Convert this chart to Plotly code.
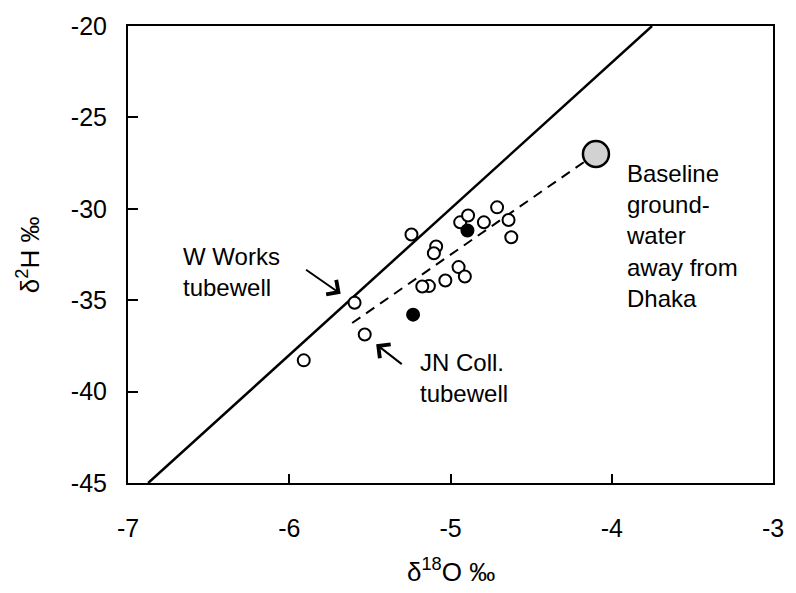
import plotly.graph_objects as go

# Data
open_x = [-5.242, -5.595, -5.532, -5.910, -4.940, -4.891, -4.793, -4.711, -4.640, -4.623,
          -5.089, -5.103, -4.950, -4.911, -5.032, -5.134, -5.175]
open_y = [-31.41, -35.14, -36.88, -38.29, -30.74, -30.37, -30.74, -29.92, -30.61, -31.56,
          -32.06, -32.43, -33.19, -33.70, -33.92, -34.23, -34.25]
filled_x = [-5.232, -4.895]
filled_y = [-35.79, -31.19]
baseline_x = [-4.098]
baseline_y = [-27.00]
mix_x = [-5.61, -4.10]
mix_y = [-36.25, -27.00]
gmwl_x = [-6.875, -3.75]
gmwl_slope, gmwl_int = 8, 10
gmwl_y = [gmwl_slope * v + gmwl_int for v in gmwl_x]
x_ticks = [-7, -6, -5, -4, -3]
x_ticktext = ["-7", "-6", "-5", "-4", "-3"]
y_ticks = [-20, -25, -30, -35, -40, -45]
y_ticktext = ["-20", "-25", "-30", "-35", "-40", "-45"]

FONT = "Liberation Sans, Arial, sans-serif"

fig = go.Figure()
fig.add_trace(go.Scatter(x=gmwl_x, y=gmwl_y, mode="lines",
                         line=dict(color="black", width=2.5), hoverinfo="skip"))
fig.add_trace(go.Scatter(x=mix_x, y=mix_y, mode="lines",
                         line=dict(color="black", width=2, dash="10px,7px"), hoverinfo="skip"))
fig.add_trace(go.Scatter(x=open_x, y=open_y, mode="markers",
                         marker=dict(size=12, color="white", line=dict(color="black", width=2))))
fig.add_trace(go.Scatter(x=filled_x, y=filled_y, mode="markers",
                         marker=dict(size=12, color="black", line=dict(color="black", width=2))))
fig.add_trace(go.Scatter(x=baseline_x, y=baseline_y, mode="markers",
                         marker=dict(size=26, color="#d2d2d2", line=dict(color="black", width=2.5))))

annots = []
# arrows
for (tx, ty, hx, hy) in [(-5.905, -33.28, -5.681, -34.65), (-5.293, -38.56, -5.461, -37.41)]:
    annots.append(dict(x=hx, y=hy, ax=tx, ay=ty, xref="x", yref="y", axref="x", ayref="y",
                       text="", showarrow=True, arrowhead=4, arrowsize=1.7, arrowwidth=2,
                       arrowcolor="black"))
# labels
labels = [(-6.671, -33.47, "W Works<br>tubewell"),
          (-5.201, -39.24, "JN Coll.<br>tubewell"),
          (-3.925, -31.50, "Baseline<br>ground-<br>water<br>away from<br>Dhaka")]
for (lx, ly, t) in labels:
    annots.append(dict(x=lx, y=ly, xref="x", yref="y", text=t, showarrow=False,
                       xanchor="left", yanchor="middle", align="left",
                       font=dict(family=FONT, size=24, color="black")))
# axis titles
annots.append(dict(x=0.5, y=-0.192, xref="paper", yref="paper", text="δ<sup>18</sup>O ‰",
                   showarrow=False, xanchor="center", yanchor="middle",
                   font=dict(family=FONT, size=26, color="black")))
annots.append(dict(x=-0.154, y=0.5, xref="paper", yref="paper", text="δ<sup>2</sup>H ‰",
                   showarrow=False, xanchor="center", yanchor="middle", textangle=-90,
                   font=dict(family=FONT, size=26, color="black")))

fig.update_layout(
    width=796, height=593,
    margin=dict(l=128, r=15, t=25, b=110),
    paper_bgcolor="white", plot_bgcolor="white",
    showlegend=False,
    annotations=annots,
    font=dict(family=FONT, size=25, color="black"),
)
fig.update_xaxes(range=[-7, -3], tickvals=x_ticks, ticktext=x_ticktext, ticks="inside",
                 ticklen=9, tickwidth=2,
                 tickcolor="black", showline=True, linecolor="black", linewidth=2, mirror=True,
                 showgrid=False, zeroline=False, ticklabelstandoff=22,
                 tickfont=dict(family=FONT, size=25, color="black"))
fig.update_yaxes(range=[-45, -20], tickvals=y_ticks, ticktext=y_ticktext, ticks="inside",
                 ticklen=10, tickwidth=2,
                 tickcolor="black", showline=True, linecolor="black", linewidth=2, mirror=True,
                 showgrid=False, zeroline=False, ticklabelstandoff=14,
                 tickfont=dict(family=FONT, size=25, color="black"))

fig.write_html("out.html")
